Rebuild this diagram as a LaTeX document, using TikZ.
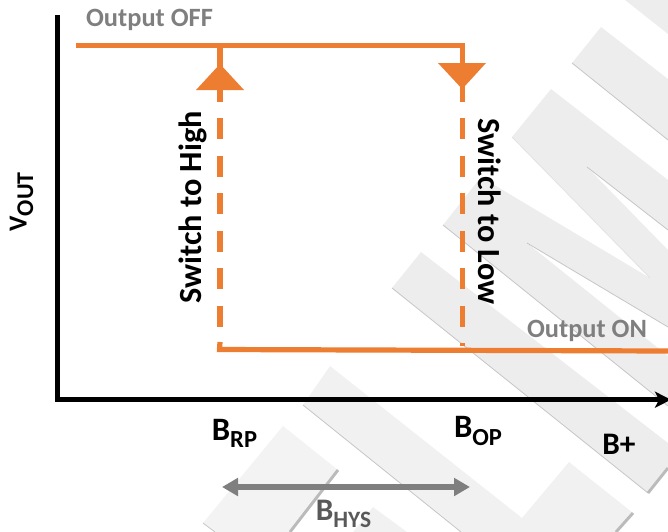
\documentclass[tikz,border=0pt]{standalone}
\usepackage{fontspec}
\setmainfont{Carlito}
\usetikzlibrary{arrows.meta}
\definecolor{orangeline}{HTML}{ED7D31}
\definecolor{labelgray}{HTML}{7F7F7F}
\definecolor{darkgraytext}{HTML}{595959}
\definecolor{markA}{HTML}{EDEDED}
\definecolor{markB}{HTML}{F1F1F1}
\definecolor{markC}{HTML}{F3F3F3}
\definecolor{markedge}{HTML}{C6C6C6}
\definecolor{markend}{HTML}{BBBBBB}
\newcommand{\fsz}[1]{\fontsize{#1}{#1}\selectfont}
\newcommand{\subtxt}[3]{\fsz{#2}B{\raisebox{-0.22em}{\fsz{#3}#1}}}
\tikzset{
  x=0.75pt,y=-0.75pt,
  markline/.style={draw=markedge,line width=0.6pt},
  markendline/.style={draw=markend,line width=2.2pt},
  axisline/.style={draw=black,line width=4.1pt},
  orangesolid/.style={draw=orangeline,line width=3.9pt},
  orangedash/.style={draw=orangeline,line width=3.9pt,dash pattern=on 15.75pt off 12.4pt},
  orangetip/.style={fill=orangeline,draw=none},
  grayspan/.style={draw=labelgray,line width=3.9pt},
  statelabel/.style={font=\bfseries\fsz{19.8},text=labelgray,inner sep=0pt},
  switchlabel/.style={font=\bfseries\fsz{24.2},text=black,inner sep=0pt},
  axislabel/.style={font=\bfseries,text=black,inner sep=0pt},
}
\begin{document}
\begin{tikzpicture}
\useasboundingbox (0,0) rectangle (668,532);
\clip (0,0) rectangle (668,532);
% watermark
\fill[markA] (625,0) -- (668,0) -- (668,34) -- cycle;
\fill[markA] (601,27) -- (668,79) -- (668,140) -- (572,63) -- cycle;
\draw[markline] (572,63) -- (668,140);
\fill[markA] (551,89) -- (668,180) -- (668,230) -- (587,167) -- (668,250) -- (668,327) -- (527,243) -- (668,356) -- (668,406) -- (443,225) -- (481,177) -- (650,278) -- (512,137) -- cycle;
\draw[markline] (443,225) -- (668,406);
\draw[markline] (527,243) -- (668,327);
\draw[markline] (587,167) -- (668,230);
\draw[markline,draw=markedge!50] (512,137) -- (650,278);
\fill[markA] (421,252) -- (392,288) -- (648,493) -- (668,468) -- (668,443) -- cycle;
\draw[markline] (392,288) -- (648,493);
\draw[markendline] (648,493) -- (668,468);
\fill[markB] (330,366) -- (303,405) -- (461,532) -- (616,532) -- (633,513) -- (569,462) -- (522,518) -- cycle;
\draw[markline] (303,405) -- (461,532);
\draw[markendline] (633,513) -- (616,532);
\fill[markC] (283,426) -- (203,523) -- (215,532) -- (290,532) -- (338,470) -- cycle;
\draw[markline] (203,523) -- (215,532);
\draw[markendline] (338,470) -- (290,532);
\fill[markB] (373,507) -- (353,532) -- (407,532) -- cycle;
% anchors
\coordinate (yTop) at (57.5,15);
\coordinate (origin) at (57.5,399.7);
\coordinate (xEnd) at (671,399.7);
\coordinate (offStart) at (76,45.5);
\coordinate (offEnd) at (464.9,45.5);
\coordinate (rpTop) at (220,45.5);
\coordinate (rpStubEnd) at (220,102);
\coordinate (rpStub) at (220,118);
\coordinate (rpLow) at (220,342);
\coordinate (opTop) at (462.7,45.5);
\coordinate (opStubEnd) at (462.7,102);
\coordinate (opStub) at (462.7,118);
\coordinate (opLow) at (462.7,346);
\coordinate (onStart) at (217,349.5);
\coordinate (onEnd) at (668,351);
\coordinate (rpCorner) at (219.5,349.5);
\coordinate (hysLeft) at (222,487);
\coordinate (hysRight) at (470,487);
% axes
\draw[axisline,-{Stealth[length=12pt,width=12pt,inset=3pt]}] (yTop) -- (origin) -- (xEnd);
% orange traces
\draw[orangesolid] (offStart) -- (offEnd);
\draw[orangesolid] (onStart) -- (onEnd);
\draw[orangesolid] (rpTop) -- (rpStubEnd);
\draw[orangesolid] (opTop) -- (opStubEnd);
\draw[orangedash] (rpStub) -- (rpLow);
\draw[orangedash] (opStub) -- (opLow);
\draw[orangesolid] (rpLow) -- (rpCorner);
\fill[orangetip] (220,64) -- (244,90) -- (196,90) -- cycle;
\fill[orangetip] (438,63) -- (486,63) -- (462.2,89) -- cycle;
% hysteresis span
\draw[grayspan,{Triangle[length=12pt,width=13pt]}-{Triangle[length=12pt,width=13pt]}] (hysLeft) -- (hysRight);
% labels
\node[statelabel,anchor=center] (offLabel) at (149.5,20) {Output OFF};
\node[statelabel,anchor=center] (onLabel) at (587,331) {Output ON};
\node[switchlabel,rotate=90] (highLabel) at (193,207.5) {Switch to High};
\node[switchlabel,rotate=-90] (lowLabel) at (489.5,211.5) {Switch to Low};
\node[axislabel,rotate=90] (voutLabel) at (21.5,202) {\fsz{19.5}V{\raisebox{-0.25em}{\fsz{18}OUT}}};
\node[axislabel] (rpLabel) at (234.5,433) {\subtxt{RP}{24.5}{18.4}};
\node[axislabel] (opLabel) at (478,431) {\subtxt{OP}{24.5}{18.4}};
\node[axislabel] (bplusLabel) at (619,444) {\fsz{23.5}B+};
\node[axislabel,text=darkgraytext] (hysLabel) at (343.5,514) {\subtxt{HYS}{23.5}{17.6}};
\end{tikzpicture}
\end{document}
